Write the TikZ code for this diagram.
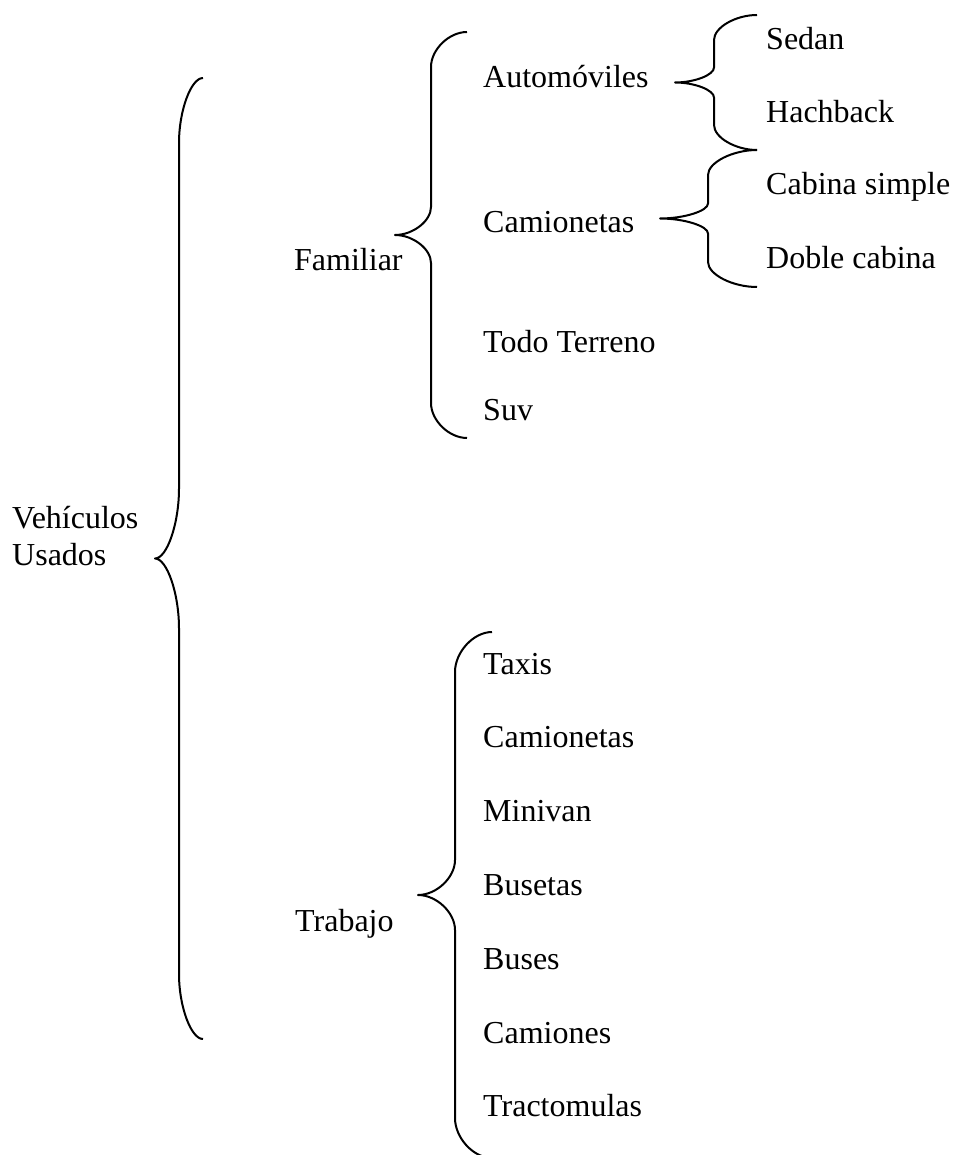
\documentclass[tikz,border=0pt]{standalone}
\usepackage{fontspec}
\setmainfont{Liberation Serif}
\usepackage{tikz}

% brace: name of tip, end x, line x, tip x, top y, bottom y, end curl, tip curl
\newcommand{\llave}[8]{%
  \pgfmathsetmacro{\llmid}{(#5+#6)/2}
  \coordinate (#1) at (#4,\llmid);
  \draw[llave] (#2,#5) .. controls ({#3+0.5*(#2-#3)},#5) and (#3,{#5+0.5*#7}) .. (#3,{#5+#7})
    -- (#3,{\llmid-#8}) .. controls (#3,{\llmid-0.5*#8}) and ({#4+0.5*(#3-#4)},\llmid) .. (#1)
    .. controls ({#4+0.5*(#3-#4)},\llmid) and (#3,{\llmid+0.5*#8}) .. (#3,{\llmid+#8})
    -- (#3,{#6-#7}) .. controls (#3,{#6-0.5*#7}) and ({#3+0.5*(#2-#3)},#6) .. (#2,#6);
}

\tikzset{
  texto/.style={inner sep=0pt, anchor=base west, font=\fontsize{32}{37}\selectfont},
  llave/.style={line width=2pt, line join=round}
}

\begin{document}
\begin{tikzpicture}[x=1pt,y=-1pt]

\clip (0,0) rectangle (952,1155);

%%% --- Root --- %%%
\node[texto, anchor=west, align=left] (vehiculos) at (12,536) {Vehículos\\Usados};
\llave{tipraiz}{203}{179}{155}{78}{1039}{65}{70}


%%% --- Familiar --- %%%
\node[texto] (familiar) at (294,271) {Familiar};
\llave{tipfam}{467}{431}{395}{32}{438}{35}{28}

\node[texto] (autos) at (483,88) {Automóviles};
\node[texto] (camfam) at (483,233) {Camionetas};
\node[texto] (todo) at (483,352) {Todo Terreno};
\node[texto] (suv) at (483,420) {Suv};

% sub braces
\llave{tipautos}{757}{714}{675}{15}{150}{25}{15}
\llave{tipcam}{757}{708}{660}{150}{287}{25}{15}

\node[texto] (sedan) at (766,50) {Sedan};
\node[texto] (hach) at (766,123) {Hachback};
\node[texto] (simple) at (766,195) {Cabina simple};
\node[texto] (doble) at (766,269) {Doble cabina};


%%% --- Trabajo --- %%%
\node[texto] (trabajo) at (295,931) {Trabajo};
\llave{tiptrab}{492}{455}{418}{632}{1158}{40}{35}

\foreach \txt [count=\i from 0] in {Taxis,Camionetas,Minivan,Busetas,Buses,Camiones,Tractomulas}
  \node[texto] (trab\i) at (483,{674+73.8*\i}) {\txt};

\end{tikzpicture}
\end{document}
